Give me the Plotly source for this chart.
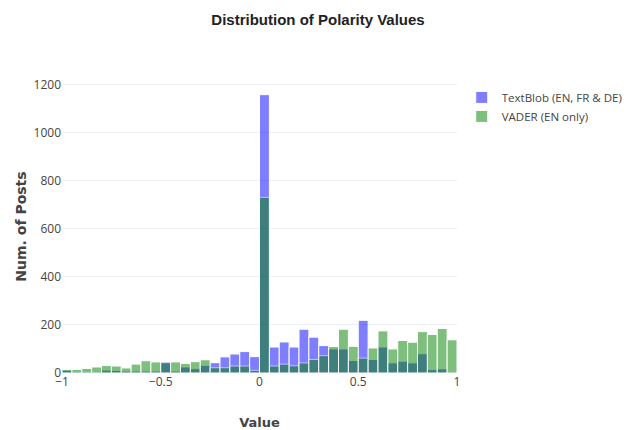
import numpy as np
import plotly.graph_objects as go

# bins of width 0.05 from -1 to 1
bin_size = 0.05
bin_left = [round(v, 2) for v in np.arange(-1, 1, bin_size)]

textblob_counts = [12, 4, 4, 4, 12, 11, 8, 8, 8, 8,
                   46, 8, 25, 18, 32, 43, 67, 79, 89, 68,
                   1157, 108, 129, 108, 182, 149, 114, 100, 100, 52,
                   219, 56, 108, 42, 49, 42, 80, 14, 17, 3]
vader_counts = [14, 15, 19, 25, 31, 29, 21, 37, 51, 46,
                43, 46, 40, 47, 55, 22, 22, 29, 29, 11,
                730, 29, 37, 30, 42, 56, 72, 110, 182, 111,
                62, 104, 175, 100, 135, 128, 172, 160, 185, 138]

series_names = ["TextBlob (EN, FR & DE)", "VADER (EN only)"]
series_colors = ["blue", "green"]

fig = go.Figure()
for name, counts, color in zip(series_names, [textblob_counts, vader_counts], series_colors):
    fig.add_trace(go.Bar(
        x=bin_left, y=counts, name=name,
        width=bin_size, offset=0,
        marker=dict(color=color, line=dict(color="white", width=1)),
        opacity=0.5,
    ))

# page body has an 8px margin, so the figure is drawn 8px smaller / shifted
W, H = 629, 422
fig.update_layout(
    template="plotly_white",
    barmode="overlay",
    width=W, height=H,
    margin=dict(l=54, r=180, t=72, b=57, autoexpand=False),
    title=dict(text="<b>Distribution of Polarity Values</b>", x=(318 - 8) / W, xref="container",
               y=1 - 12 / H, yref="container", yanchor="middle",
               font=dict(family="Liberation Sans", size=15, color="#222")),
    font=dict(family="Open Sans", size=12, color="#444"),
    legend=dict(font=dict(size=11.5), x=1.012, y=0.99, yanchor="top"),
    xaxis=dict(range=[-1, 1], dtick=0.5, showgrid=False, zeroline=False, automargin=False,
               title=dict(text="<b>Value</b>", standoff=29,
                          font=dict(family="DejaVu Sans", size=13, color="#444"))),
    yaxis=dict(range=[0, 1218], dtick=200, zeroline=False, automargin=False,
               title=dict(text="<b>Num. of Posts</b>", standoff=3,
                          font=dict(family="DejaVu Sans", size=14, color="#444"))),
)

fig.write_html("out.html")
